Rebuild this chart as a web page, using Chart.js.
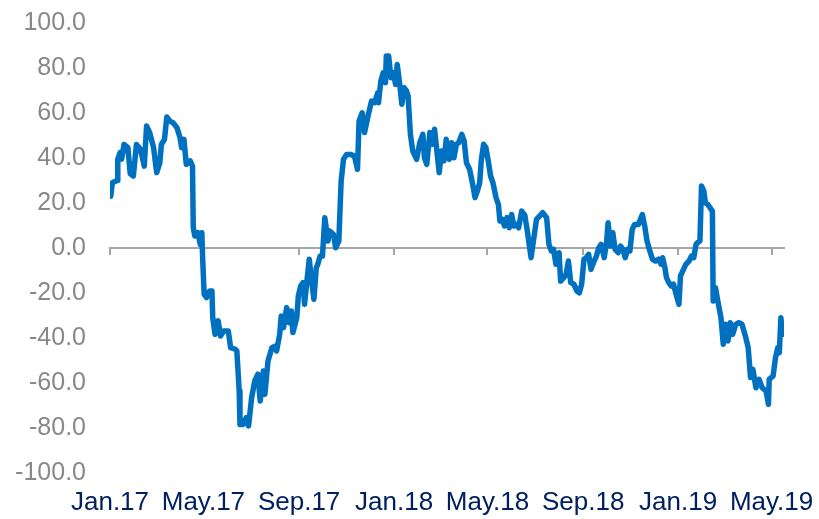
<!DOCTYPE html>
<html>
<head>
<meta charset="utf-8">
<script src="https://cdn.jsdelivr.net/npm/chart.js@4/dist/chart.umd.min.js"></script>
<style>
html,body{margin:0;padding:0;background:#fff;}
#wrap{width:819px;height:519px;}
</style>
</head>
<body>
<div id="wrap"><canvas id="c" width="819" height="519"></canvas></div>
<script>
// Days elapsed since 1 Jan 2017 for each observation
const dayOffsets = [
  1,3,9,10,13,15,18,23,26,30,
  34,39,44,47,51,56,60,64,66,70,
  73,77,81,86,90,92,95,98,103,106,
  107,109,113,116,118,119,121,124,128,131,
  132,135,139,142,146,152,155,161,163,166,
  167,171,175,178,182,186,190,193,197,199,
  203,208,212,214,218,220,223,227,230,233,
  235,240,242,245,248,250,253,256,259,262,
  265,267,270,273,276,280,282,287,290,294,
  297,300,304,309,314,318,320,324,327,332,
  336,340,344,345,348,351,354,355,358,361,
  364,367,369,372,375,378,381,383,386,389,
  394,398,402,404,407,411,414,417,420,423,
  426,429,432,436,439,442,445,448,452,455,
  458,462,466,469,472,475,477,480,483,486,
  489,492,496,499,501,504,507,510,513,516,
  519,522,525,529,533,536,538,541,544,548,
  552,556,561,564,567,570,573,577,579,583,
  586,589,592,596,600,603,606,609,612,615,
  618,622,625,628,631,635,638,640,643,646,
  649,653,656,659,662,665,668,671,674,679,
  684,687,690,693,697,701,705,708,710,713,
  715,718,721,724,728,731,733,736,740,744,
  747,750,753,755,758,760,763,765,768,771,
  774,775,778,781,785,788,791,794,797,800,
  804,808,812,817,820,823,826,830,834,838,
  843,846,847,852,855,858,860,862,864,866
];
const seriesValues = [
  23,29,30,39.5,42.4,39.5,46,44.6,33,32,
  46,44,36.4,54.2,51.3,44.6,33.5,37.9,46,48.3,
  58.2,56.4,55.7,53.5,49,44.6,48.3,37.2,38.7,36.4,
  9,5.3,6.8,1.6,6.8,-4.3,-20.6,-22,-19.1,-19.1,
  -31,-38.4,-32.4,-39.1,-36.9,-36.9,-44.3,-45,-45.8,-63.6,
  -78.4,-78.4,-75.4,-79.1,-66.5,-59.1,-56.1,-68,-54.7,-65,
  -50.2,-44.3,-43.6,-45.8,-38.4,-30.2,-35.4,-26.5,-33.2,-28,
  -37.6,-31,-21.3,-16.9,-15.4,-25,-14.7,-5,-14.7,-22.8,
  -8.8,-7.2,-3.6,-3.6,13.5,3.1,7.6,6.1,0.1,3.1,
  29.8,39.4,41.6,41.6,40.9,35,56.4,60.1,51.3,59.4,
  65.3,64.6,69,64.6,74.2,77.9,73.5,85.3,85.3,75.7,
  77.9,72.7,81.6,73.5,63.9,71.2,69.8,67.6,50.5,43.1,
  39.4,46.8,50.5,40.1,37.2,51.3,46.1,52.8,43.1,33.5,
  43.1,38.7,48.3,39.4,46.8,40.1,46.1,46.8,50.5,47.6,
  37.9,35,28.3,22.4,25.3,29,38.7,46.1,44.6,38.7,
  32,29,22.4,19.4,12,12.7,9.8,13.5,9,14.9,
  9.8,10.5,9,16.4,14.5,8,3.1,-4.3,3.1,12.7,
  14.2,15.7,13.5,1.6,-1.3,-0.6,-7.2,-2.1,-14.7,-13.2,
  -11.7,-5.8,-15.4,-16.1,-19.1,-19.9,-16.1,-5,-4.3,-2.8,
  -9.5,-5.8,-3.6,0.1,1.6,-4.3,2.4,11.2,0.9,6.8,
  -0.6,-2.1,0.9,-0.6,-4.3,-0.6,-1.3,8.3,10.5,10.5,
  14.9,9.8,3.1,-0.6,-5,-5.8,-5,-7.2,-4.3,-8.8,
  -13.2,-15.4,-16.9,-16.1,-21.3,-25,-12.4,-10.2,-7.2,-5.8,
  -3.6,-4.3,1.6,2.4,3.1,27.6,25.3,20.1,19.4,17.9,
  16.4,-23.6,-17.6,-23.6,-31,-42.8,-33.9,-41.3,-33.2,-38.4,
  -34,-33.2,-33.9,-39.9,-44.3,-57.6,-53.9,-62.1,-58.4,-62.1,
  -63.6,-69.5,-58.4,-56.9,-48.8,-44.3,-46.5,-31,-38.4,-37
];
// Axis ticks (days since 1 Jan 2017) and their labels
const tickDays = [0,120,243,365,485,608,730,850];
const tickLabels = ['Jan.17','May.17','Sep.17','Jan.18','May.18','Sep.18','Jan.19','May.19'];
const axisEndDay = 866;
const yMin = -100, yMax = 100, yStep = 20;

const points = dayOffsets.map((d, i) => ({x: d, y: seriesValues[i]}));
const FONT = "'Liberation Sans', Arial, sans-serif";
const AXIS_GREY = '#a6a6a6';

new Chart(document.getElementById('c'), {
  type: 'line',
  data: {
    datasets: [{
      data: points,
      borderColor: '#0070C0',
      borderWidth: 5.5,
      pointRadius: 0,
      tension: 0,
      fill: false,
      borderJoinStyle: 'round',
      borderCapStyle: 'round'
    }]
  },
  options: {
    responsive: false,
    animation: false,
    devicePixelRatio: 1,
    layout: {padding: {top: 23, right: 35, left: 0, bottom: 0}},
    plugins: {legend: {display: false}, tooltip: {enabled: false}},
    scales: {
      x: {
        type: 'linear',
        position: 'bottom',
        min: 0, max: axisEndDay,
        afterBuildTicks: s => { s.ticks = tickDays.map(v => ({value: v})); },
        afterFit: s => { s.height = 46; s.paddingLeft = 0; s.paddingRight = 0; },
        grid: {display: false, drawTicks: false},
        border: {display: false},
        ticks: {
          autoSkip: false, maxRotation: 0, padding: 14,
          color: '#002060',
          font: {family: FONT, size: 26},
          callback: (v, i) => tickLabels[i]
        }
      },
      x2: {
        type: 'linear',
        position: {y: 0},
        min: 0, max: axisEndDay,
        afterBuildTicks: s => { s.ticks = tickDays.map(v => ({value: v})); },
        afterFit: s => { s.paddingLeft = 0; s.paddingRight = 0; s.paddingTop = 0; s.paddingBottom = 0; },
        grid: {drawOnChartArea: false, drawTicks: true, tickLength: 6, color: AXIS_GREY, lineWidth: 2},
        border: {display: true, color: AXIS_GREY, width: 2},
        ticks: {display: false}
      },
      y: {
        min: yMin, max: yMax,
        afterFit: s => { s.width = 110; s.paddingTop = 0; s.paddingBottom = 0; },
        grid: {display: false, drawTicks: false},
        border: {display: false},
        ticks: {
          stepSize: yStep, padding: 24,
          color: '#888888',
          font: {family: FONT, size: 25},
          callback: v => Number(v).toFixed(1)
        }
      }
    }
  }
});
</script>
</body>
</html>
